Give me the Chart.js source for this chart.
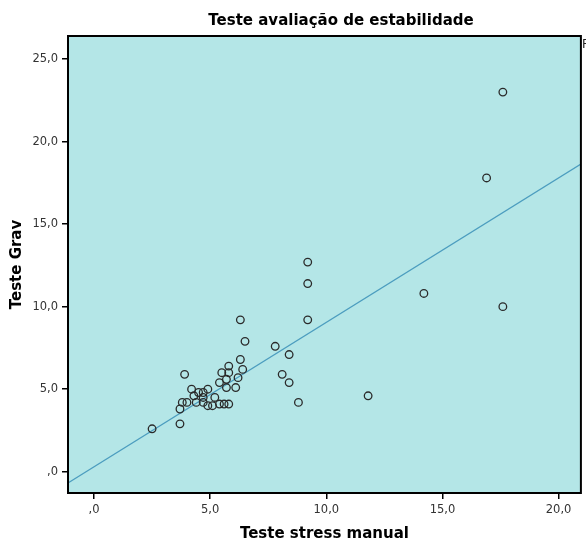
<!DOCTYPE html>
<html>
<head>
<meta charset="utf-8">
<script src="https://cdn.jsdelivr.net/npm/chart.js@4"></script>
<style>
  html, body { margin: 0; padding: 0; background: #ffffff; }
  #wrap { width: 586px; height: 543px; }
</style>
</head>
<body>
<div id="wrap"><canvas id="c" width="586" height="543"></canvas></div>
<script>
// ---- data ----
const stressManual = [2.5, 3.7, 3.7, 3.9, 3.8, 4.0, 4.2, 4.3, 4.4, 4.5, 4.7, 4.7, 4.7, 4.9, 4.9, 5.1, 5.2, 5.4, 5.4, 5.5, 5.6, 5.7, 5.7, 5.8, 5.8, 5.8, 6.1, 6.2, 6.3, 6.4, 6.3, 6.5, 7.8, 8.4, 8.1, 8.4, 8.8, 9.2, 9.2, 9.2, 11.8, 14.2, 17.6, 16.9, 17.6];
const testeGrav    = [2.6, 2.9, 3.8, 5.9, 4.2, 4.2, 5.0, 4.6, 4.2, 4.8, 4.5, 4.8, 4.2, 5.0, 4.0, 4.0, 4.5, 5.4, 4.1, 6.0, 4.1, 5.6, 5.1, 6.4, 4.1, 6.0, 5.1, 5.7, 6.8, 6.2, 9.2, 7.9, 7.6, 7.1, 5.9, 5.4, 4.2, 12.7, 11.4, 9.2, 4.6, 10.8, 10.0, 17.8, 23.0];
const fitIntercept = 0.30;
const fitSlope = 0.875;
const xTickValues = [0, 5, 10, 15, 20];
const xTickLabels = [",0", "5,0", "10,0", "15,0", "20,0"];
const yTickValues = [0, 5, 10, 15, 20, 25];
const yTickLabels = [",0", "5,0", "10,0", "15,0", "20,0", "25,0"];
const xRange = [-1.12, 20.96];
const yRange = [-1.29, 26.4];
const chartTitle = "Teste avaliação de estabilidade";
const xTitle = "Teste stress manual";
const yTitle = "Teste Grav";

const points = stressManual.map((x, i) => ({ x: x, y: testeGrav[i] }));
const fitLine = xRange.map(x => ({ x: x, y: fitIntercept + fitSlope * x }));

const frame = {
  id: 'frame',
  beforeDatasetsDraw(chart) {
    const a = chart.chartArea, ctx = chart.ctx;
    ctx.save();
    ctx.fillStyle = '#b4e6e7';
    ctx.fillRect(a.left, a.top, a.right - a.left, a.bottom - a.top);
    ctx.restore();
  },
  afterDatasetsDraw(chart) {
    const a = chart.chartArea, ctx = chart.ctx;
    ctx.save();
    ctx.strokeStyle = '#000';
    ctx.lineWidth = 2;
    ctx.strokeRect(a.left, a.top, a.right - a.left, a.bottom - a.top);
    ctx.restore();
  },
  afterDraw(chart) {
    const ctx = chart.ctx;
    ctx.save();
    ctx.fillStyle = '#000';
    ctx.font = 'bold 15px "DejaVu Sans"';
    ctx.textAlign = 'center';
    ctx.textBaseline = 'middle';
    ctx.fillText(chartTitle, 341, 21);
    ctx.font = '12px "DejaVu Sans"';
    ctx.textAlign = 'left';
    ctx.fillStyle = '#222';
    ctx.fillText('R² Linear', 582, 45);
    ctx.restore();
  }
};

new Chart(document.getElementById('c'), {
  type: 'scatter',
  data: {
    datasets: [
      {
        type: 'scatter',
        data: points,
        pointRadius: 3.8,
        pointBorderWidth: 1.3,
        pointBorderColor: '#2a2a2a',
        pointBackgroundColor: 'rgba(0,0,0,0)',
        pointHoverRadius: 3.8,
        order: 1
      },
      {
        type: 'line',
        data: fitLine,
        borderColor: '#4c9dbf',
        borderWidth: 1.2,
        pointRadius: 0,
        fill: false,
        order: 2
      }
    ]
  },
  plugins: [frame],
  options: {
    responsive: false,
    animation: false,
    events: [],
    layout: { padding: { top: 36, right: 5, bottom: 0, left: 0 } },
    plugins: { legend: { display: false }, title: { display: false }, tooltip: { enabled: false } },
    scales: {
      x: {
        type: 'linear',
        min: xRange[0],
        max: xRange[1],
        afterBuildTicks(s) { s.ticks = xTickValues.map(v => ({ value: v })); },
        afterFit(s) { s.height = 50; },
        ticks: {
          callback(v) { const i = xTickValues.indexOf(v); return i >= 0 ? xTickLabels[i] : ''; },
          font: { family: 'DejaVu Sans', size: 11.5 },
          color: '#333',
          padding: 4,
          maxRotation: 0
        },
        grid: { drawOnChartArea: false, drawTicks: true, tickLength: 6, color: '#000', lineWidth: 1.5 },
        border: { display: false },
        title: { display: true, text: xTitle, font: { family: 'DejaVu Sans', size: 15, weight: 'bold' }, color: '#000', padding: { top: 0, bottom: 0 } }
      },
      y: {
        type: 'linear',
        min: yRange[0],
        max: yRange[1],
        afterBuildTicks(s) { s.ticks = yTickValues.map(v => ({ value: v })); },
        afterFit(s) { s.width = 68; },
        ticks: {
          callback(v) { const i = yTickValues.indexOf(v); return i >= 0 ? yTickLabels[i] : ''; },
          font: { family: 'DejaVu Sans', size: 11.5 },
          color: '#333',
          padding: 4
        },
        grid: { drawOnChartArea: false, drawTicks: true, tickLength: 6, color: '#000', lineWidth: 1.5 },
        border: { display: false },
        title: { display: true, text: yTitle, font: { family: 'DejaVu Sans', size: 15, weight: 'bold' }, color: '#000', padding: { top: 8, bottom: 0 } }
      }
    }
  }
});
</script>
</body>
</html>
